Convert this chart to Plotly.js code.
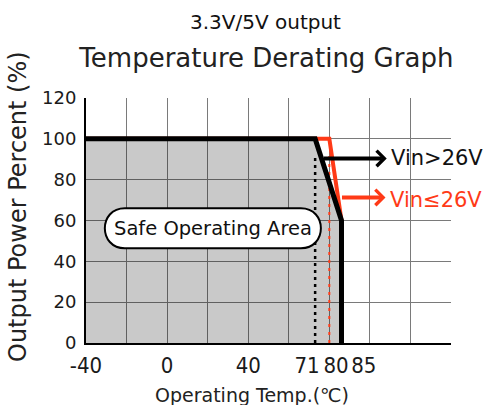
<!DOCTYPE html>
<html>
<head>
<meta charset="utf-8">
<script src="https://cdn.plot.ly/plotly-3.0.1.min.js"></script>
<style>html,body{margin:0;padding:0;background:#fff;}#chart{width:487px;height:405px;}</style>
</head>
<body>
<div id="chart"></div>
<script>
// Derating curve, Vin > 26V (black)
const tempGt26 = [-40, 73, 86, 86];
const powerGt26 = [100, 100, 60, 0];
// Derating curve, Vin <= 26V (red)
const tempLe26 = [-40, 80, 86];
const powerLe26 = [100, 100, 60];
// Safe operating area (under the black curve)
const safeTemp = [-40, 73, 86, 86, -40];
const safePower = [100, 100, 60, 0, 0];
// Dotted markers
const markGt26Temp = [73, 73];
const markLe26Temp = [80, 80];
const markPower = [0, 92];
// Tick labels
const xTickLabels = ['-40', '0', '40', '71', '80', '85'];
const yTickLabels = ['0', '20', '40', '60', '80', '100', '120'];
const yTickValues = [0, 20, 40, 60, 80, 100, 120];

const RED = '#ff3a17';
const DARK = '#1a1a1a';
const GF = 'DejaVu Sans, Verdana, sans-serif';

// positions where the (spread-out) x labels sit on the axis
const xTickPos = [-40, 0, 40, 69, 83.3, 97];

const traces = [
  {x: safeTemp, y: safePower, type: 'scatter', mode: 'lines', fill: 'toself',
   fillcolor: 'rgba(0,0,0,0.21)', line: {width: 0}, hoverinfo: 'skip'},
  {x: markGt26Temp, y: markPower, type: 'scatter', mode: 'lines',
   line: {color: '#000', width: 2.5, dash: '3px,4px'}},
  {x: markLe26Temp, y: markPower, type: 'scatter', mode: 'lines',
   line: {color: RED, width: 2, dash: '3px,5px'}},
  {x: tempLe26, y: powerLe26, type: 'scatter', mode: 'lines',
   line: {color: RED, width: 4}},
  {x: tempGt26, y: powerGt26, type: 'scatter', mode: 'lines',
   line: {color: '#000', width: 5}}
];

const layout = {
  width: 487, height: 405,
  margin: {l: 86, r: 36, t: 98, b: 62},
  paper_bgcolor: '#fff', plot_bgcolor: '#fff',
  showlegend: false,
  title: {text: 'Temperature Derating Graph', font: {family: GF, size: 26, color: '#222'},
          x: 0.547, xanchor: 'center', y: 1 - 58/405, yanchor: 'middle', yref: 'container'},
  xaxis: {
    range: [-40, 140], tickmode: 'array', tickvals: xTickPos, ticktext: xTickLabels,
    showgrid: false, zeroline: false, showline: true, linecolor: '#000', linewidth: 2,
    ticks: '', ticklabelstandoff: 2,
    tickfont: {family: 'Liberation Sans Narrow, DejaVu Sans Condensed, Liberation Sans, sans-serif', size: 22, color: DARK},
    minor: {tickmode: 'linear', tick0: -40, dtick: 20, showgrid: true, gridcolor: '#7a7a7a', gridwidth: 1, ticklen: 0},
    fixedrange: true
  },
  yaxis: {
    range: [0, 120], tickmode: 'array', tickvals: yTickValues, ticktext: yTickLabels,
    showgrid: true, gridcolor: '#7a7a7a', gridwidth: 1, zeroline: false,
    showline: true, linecolor: '#000', linewidth: 2, ticks: '', ticklabelstandoff: 4,
    tickfont: {family: GF, size: 18, color: DARK}, fixedrange: true
  },
  shapes: [
    {type: 'path', xref: 'x', yref: 'y', xsizemode: 'pixel', ysizemode: 'pixel',
     xanchor: 22.56, yanchor: 56.2,
     path: 'M-88,-20 L88,-20 C114.7,-20 114.7,20 88,20 L-88,20 C-114.7,20 -114.7,-20 -88,-20 Z',
     fillcolor: '#fff', line: {color: '#000', width: 2}, layer: 'above'}
  ],
  annotations: [
    {xref: 'paper', yref: 'paper', x: (265 - 86) / 365, y: (343 - 22) / 245, xanchor: 'center', yanchor: 'middle',
     text: '3.3V/5V output', showarrow: false, font: {family: GF, size: 20, color: '#111'}},
    {xref: 'paper', yref: 'paper', x: (18 - 86) / 365, y: (343 - 207) / 245, xanchor: 'center', yanchor: 'middle',
     text: 'Output Power Percent (%)', textangle: -90, showarrow: false, font: {family: GF, size: 24, color: '#222'}},
    {xref: 'paper', yref: 'paper', x: (252 - 86) / 365, y: (343 - 395) / 245, xanchor: 'center', yanchor: 'middle',
     text: 'Operating Temp.(℃)', showarrow: false, font: {family: GF, size: 19, color: '#222'}},
    {xref: 'x', yref: 'y', x: 22.56, y: 56.2, text: 'Safe Operating Area', showarrow: false,
     font: {family: GF, size: 19.5, color: '#111'}},
    {xref: 'x', yref: 'y', axref: 'x', ayref: 'y', x: 108.3, y: 90.4, ax: 76.5, ay: 90.4, text: '',
     showarrow: true, arrowhead: 4, arrowsize: 0.75, arrowwidth: 4, arrowcolor: '#000'},
    {xref: 'x', yref: 'y', axref: 'x', ayref: 'y', x: 107.7, y: 71.3, ax: 85.5, ay: 71.3, text: '',
     showarrow: true, arrowhead: 4, arrowsize: 0.75, arrowwidth: 4, arrowcolor: RED},
    {xref: 'x', yref: 'y', x: 109.3, y: 90.4, xanchor: 'left', yanchor: 'middle', text: 'Vin>26V',
     showarrow: false, font: {family: GF, size: 21, color: '#111'}},
    {xref: 'x', yref: 'y', x: 108.9, y: 69.9, xanchor: 'left', yanchor: 'middle', text: 'Vin≤26V',
     showarrow: false, font: {family: GF, size: 21, color: RED}}
  ]
};

Plotly.newPlot('chart', traces, layout, {staticPlot: true, displayModeBar: false});
</script>
</body>
</html>
